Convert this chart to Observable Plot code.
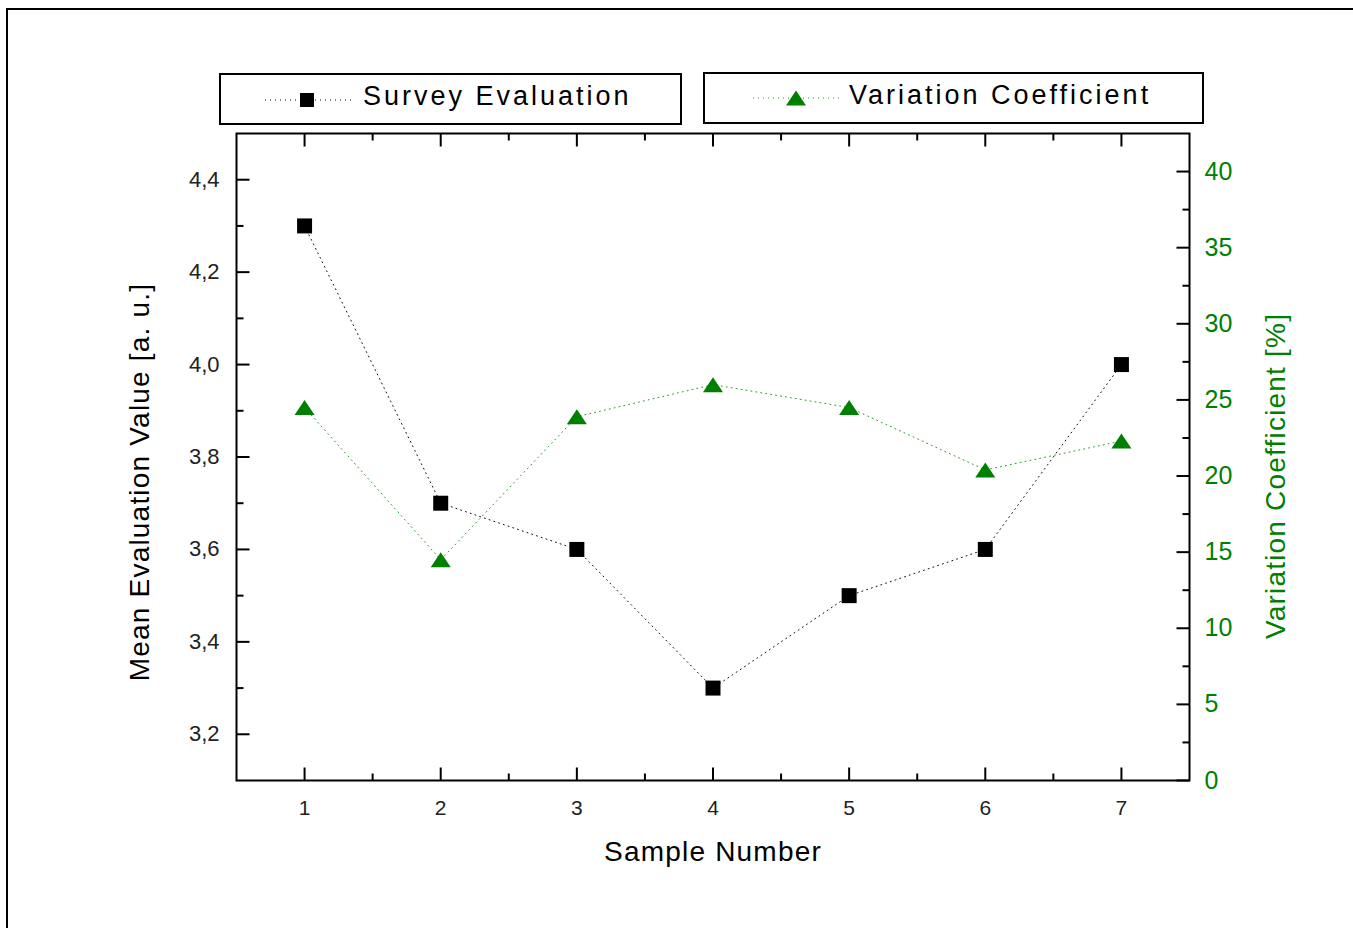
<!DOCTYPE html>
<html>
<head>
<meta charset="utf-8">
<script src="https://cdn.jsdelivr.net/npm/d3@7"></script>
<script src="https://cdn.jsdelivr.net/npm/@observablehq/plot@0.6"></script>
<style>
  html, body { margin: 0; padding: 0; background: #fff; }
  body { width: 1353px; height: 928px; position: relative; overflow: hidden; font-family: "Liberation Sans", Arial, sans-serif; }
  #outer { position: absolute; left: 6px; top: 8px; right: -10px; bottom: -10px; border-top: 2px solid #000; border-left: 2px solid #000; pointer-events: none; }
  #legend { position: relative; height: 128px; }
  .lbox { position: absolute; box-sizing: border-box; border: 2px solid #000; background: #fff; }
  .ltext { position: absolute; font-size: 27px; line-height: 1; letter-spacing: 3px; color: #000; white-space: nowrap; }
  .lsample { position: absolute; overflow: visible; }
  #chart svg g[aria-label="text"] { letter-spacing: 1.2px; }
</style>
</head>
<body>
<div id="outer"></div>
<div id="legend"></div>
<div id="chart"></div>
<script>
// ---- data ----
const samples = [1, 2, 3, 4, 5, 6, 7];
const surveyEvaluation = [4.3, 3.7, 3.6, 3.3, 3.5, 3.6, 4.0];
const variationCoefficient = [24.5, 14.5, 23.9, 26.0, 24.5, 20.4, 22.3];
const seriesNames = ["Survey Evaluation", "Variation Coefficient"];
const xLabel = "Sample Number";
const yLabelLeft = "Mean Evaluation Value [a. u.]";
const yLabelRight = "Variation Coefficient [%]";
const xTicks = [1, 2, 3, 4, 5, 6, 7];
const xMinorTicks = [1.5, 2.5, 3.5, 4.5, 5.5, 6.5];
const leftTicks = [3.2, 3.4, 3.6, 3.8, 4.0, 4.2, 4.4];
const leftMinorTicks = [3.3, 3.5, 3.7, 3.9, 4.1, 4.3];
const rightTicks = [0, 5, 10, 15, 20, 25, 30, 35, 40];
const rightMinorTicks = [2.5, 7.5, 12.5, 17.5, 22.5, 27.5, 32.5, 37.5];

// ---- scales ----
const xDomain = [0.5, 7.5];
const yDomain = [3.1, 4.5];
const rDomain = [0, 42.5];
const toLeft = v => yDomain[0] + (v - rDomain[0]) * (yDomain[1] - yDomain[0]) / (rDomain[1] - rDomain[0]);
const fromLeft = y => rDomain[0] + (y - yDomain[0]) * (rDomain[1] - rDomain[0]) / (yDomain[1] - yDomain[0]);

const green = "#008000";
const rows = samples.map((s, i) => ({sample: s, survey: surveyEvaluation[i], cv: variationCoefficient[i]}));

const tickShape = {draw(ctx, l) { ctx.moveTo(0, 0); ctx.lineTo(0, -l); }};
const triangleSymbol = {draw(ctx, size) {
  const r = Math.sqrt(size / Math.PI);
  const w = r * 1.18, h = r * 1.77;
  ctx.moveTo(0, -h / 2); ctx.lineTo(w, h / 2); ctx.lineTo(-w, h / 2); ctx.closePath();
}};
const tickStyle = {shape: tickShape, anchor: "start", stroke: "#000", strokeWidth: 2, strokeLinecap: "butt"};
const titleStyle = {text: d => d, fontSize: 28, textAnchor: "middle", lineAnchor: "middle"};

const chart = Plot.plot({
  width: 1353,
  height: 800,
  marginLeft: 236,
  marginRight: 164,
  marginTop: 5,
  marginBottom: 148,
  style: {fontFamily: "'Liberation Sans', Arial, sans-serif", background: "transparent", overflow: "visible"},
  x: {domain: xDomain},
  y: {domain: yDomain},
  marks: [
    Plot.line(rows, {x: "sample", y: "survey", stroke: "#111", strokeWidth: 1, strokeDasharray: "1,4"}),
    Plot.line(rows, {x: "sample", y: d => toLeft(d.cv), stroke: "#2a9a2a", strokeWidth: 1, strokeDasharray: "1,4"}),
    // ticks (inward)
    Plot.vector(leftTicks, {y: d => d, frameAnchor: "left", rotate: 90, length: 13, ...tickStyle}),
    Plot.vector(leftMinorTicks, {y: d => d, frameAnchor: "left", rotate: 90, length: 7, ...tickStyle}),
    Plot.vector(rightTicks.map(toLeft), {y: d => d, frameAnchor: "right", rotate: -90, length: 13, ...tickStyle}),
    Plot.vector(rightMinorTicks.map(toLeft), {y: d => d, frameAnchor: "right", rotate: -90, length: 7, ...tickStyle}),
    Plot.vector(xTicks, {x: d => d, frameAnchor: "bottom", rotate: 0, length: 13, ...tickStyle}),
    Plot.vector(xMinorTicks, {x: d => d, frameAnchor: "bottom", rotate: 0, length: 7, ...tickStyle}),
    Plot.vector(xTicks, {x: d => d, frameAnchor: "top", rotate: 180, length: 13, ...tickStyle}),
    Plot.vector(xMinorTicks, {x: d => d, frameAnchor: "top", rotate: 180, length: 7, ...tickStyle}),
    Plot.frame({stroke: "#000", strokeWidth: 2}),
    // axes labels
    Plot.axisY(leftTicks, {anchor: "left", tickSize: 0, tickPadding: 17, tickFormat: d => d.toFixed(1).replace(".", ","), fontSize: 22, color: "#222", label: null}),
    Plot.axisY(rightTicks.map(toLeft), {anchor: "right", tickSize: 0, tickPadding: 15, tickFormat: d => String(Math.round(fromLeft(d))), fontSize: 25, color: green, label: null}),
    Plot.axisX(xTicks, {anchor: "bottom", tickSize: 0, tickPadding: 20, tickFormat: d => String(d), fontSize: 21, color: "#222", label: null}),
    // titles
    Plot.text([xLabel], {...titleStyle, frameAnchor: "bottom", dy: 72, fill: "#000"}),
    Plot.text([yLabelLeft], {...titleStyle, frameAnchor: "left", dx: -96, dy: 25, rotate: -90, fill: "#000"}),
    Plot.text([yLabelRight], {...titleStyle, frameAnchor: "right", dx: 87, dy: 19, rotate: -90, fill: green}),
    // markers
    Plot.dot(rows, {x: "sample", y: "survey", symbol: "square", r: 8.46, fill: "#000"}),
    Plot.dot(rows, {x: "sample", y: d => toLeft(d.cv), symbol: triangleSymbol, r: 8.5, fill: green})
  ]
});
document.getElementById("chart").appendChild(chart);

// ---- legend (HTML above the SVG) ----
const legendLayout = [
  {box: [219, 73, 463, 52], sample: [262, 85], text: [363, 83], color: "#111", marker: "square", markerColor: "#000"},
  {box: [703, 72, 501, 52], sample: [750, 83], text: [849, 82], color: "#2a9a2a", marker: "triangle", markerColor: green}
];
const legend = document.getElementById("legend");
seriesNames.forEach((name, i) => {
  const L = legendLayout[i];
  const box = document.createElement("div");
  box.className = "lbox";
  Object.assign(box.style, {left: L.box[0] + "px", top: L.box[1] + "px", width: L.box[2] + "px", height: L.box[3] + "px"});
  legend.appendChild(box);
  const svg = d3.create("svg").attr("class", "lsample").attr("width", 92).attr("height", 30)
    .style("left", L.sample[0] + "px").style("top", L.sample[1] + "px");
  svg.append("line").attr("x1", 3).attr("x2", 89).attr("y1", 15).attr("y2", 15)
    .attr("stroke", L.color).attr("stroke-width", 1).attr("stroke-dasharray", "1,4");
  if (L.marker === "square") {
    svg.append("rect").attr("x", 45 - 7).attr("y", 15 - 7).attr("width", 14).attr("height", 14).attr("fill", L.markerColor);
  } else {
    svg.append("path").attr("d", "M46,7.5L56,22.5L36,22.5Z").attr("fill", L.markerColor);
  }
  legend.appendChild(svg.node());
  const t = document.createElement("div");
  t.className = "ltext";
  t.textContent = name;
  Object.assign(t.style, {left: L.text[0] + "px", top: L.text[1] + "px"});
  legend.appendChild(t);
});
</script>
</body>
</html>
